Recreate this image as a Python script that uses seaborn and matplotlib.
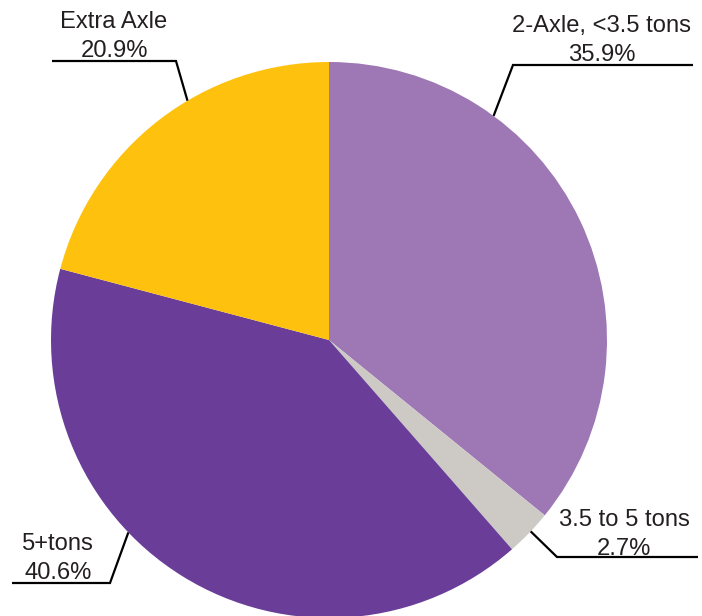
import matplotlib
matplotlib.use("Agg")
import matplotlib.pyplot as plt
import seaborn as sns
import numpy as np

# Vehicle class shares (percent)
categories = ["2-Axle, <3.5 tons", "3.5 to 5 tons", "5+tons", "Extra Axle"]
shares = [35.9, 2.7, 40.6, 20.9]
share_labels = ["35.9%", "2.7%", "40.6%", "20.9%"]
colors = ["#9E77B5", "#CDCAC6", "#6A3E98", "#FEC10E"]

sns.set_theme(style="white")
plt.rcParams["font.family"] = ["Liberation Sans", "DejaVu Sans"]

W, H = 702, 616
fig = plt.figure(figsize=(W / 100, H / 100), dpi=100)
ax = fig.add_axes([0, 0, 1, 1])


def py(y):
    """Convert a top-down pixel row into the axes' upward y coordinate."""
    return H - y


cx, cy, R = 329, py(340), 278
ax.pie(shares, colors=sns.color_palette(colors), startangle=90,
       counterclock=False, center=(cx, cy), radius=R,
       wedgeprops=dict(linewidth=0), normalize=True)

# Label layout: anchor angle on the rim, elbow point, underline end, text centre,
# name baseline, value baseline (pixel rows measured from the top)
layout = {
    "2-Axle, <3.5 tons": dict(ang=53.7, elbow=(513, 65), end=693, tx=602, y1=32, y2=61),
    "3.5 to 5 tons": dict(ang=-43.5, elbow=(557, 557), end=698, tx=624, y1=526, y2=555),
    "5+tons": dict(ang=-136.2, elbow=(110, 583), end=12, tx=58, y1=550, y2=579),
    "Extra Axle": dict(ang=120.6, elbow=(176, 61), end=52, tx=114, y1=28, y2=57),
}

txt_color = "#231F20"
for name, val in zip(categories, share_labels):
    L = layout[name]
    a = np.deg2rad(L["ang"])
    ax_x, ax_y = cx + R * np.cos(a), cy + R * np.sin(a)
    ex, ey = L["elbow"]
    ax.plot([ax_x, ex, L["end"]], [ax_y, py(ey), py(ey)], color="black",
            lw=1.6, solid_joinstyle="miter", solid_capstyle="butt", clip_on=False)
    ax.text(L["tx"], py(L["y1"]), name, ha="center", va="baseline",
            fontsize=17.1, color=txt_color)
    ax.text(L["tx"], py(L["y2"]), val, ha="center", va="baseline",
            fontsize=17.1, color=txt_color)

ax.set_xlim(0, W)
ax.set_ylim(0, H)
ax.set_aspect("equal", adjustable="box")
ax.axis("off")

fig.savefig("out.png", dpi=100, facecolor="white")
